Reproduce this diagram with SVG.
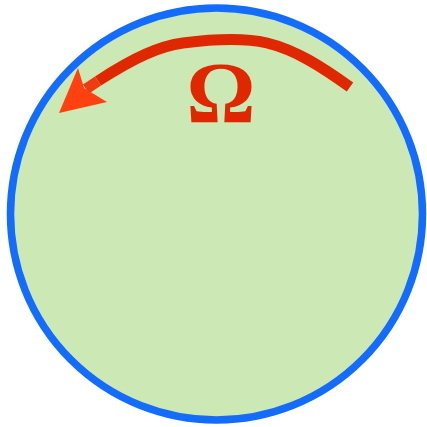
<svg xmlns="http://www.w3.org/2000/svg" width="427" height="427" viewBox="0 0 427 427">
<style>
.omega{font-family:"Liberation Serif","DejaVu Serif",serif;font-weight:bold;fill:#e02800}
</style>
<rect width="427" height="427" fill="#ffffff"/>
<g id="domain">
<circle cx="216.5" cy="214" r="206" fill="#cce8b5" stroke="#146cfc" stroke-width="7.5"/>
</g>
<g id="connectors">
<path d="M350,87 C322,67 296,50 267,43 C245,38 215,39 183,43 C160,46 135,57 98,81" fill="none" stroke="#e02800" stroke-width="11"/>
<path d="M98,81 L86,89" fill="none" stroke="#f03a10" stroke-width="11"/>
<polygon points="59,113 78,68 84,88 107,102" fill="#ff4010"/>
</g>
<g id="label">
<text class="omega" x="221" y="122" font-size="86" text-anchor="middle">Ω</text>
</g>
</svg>
